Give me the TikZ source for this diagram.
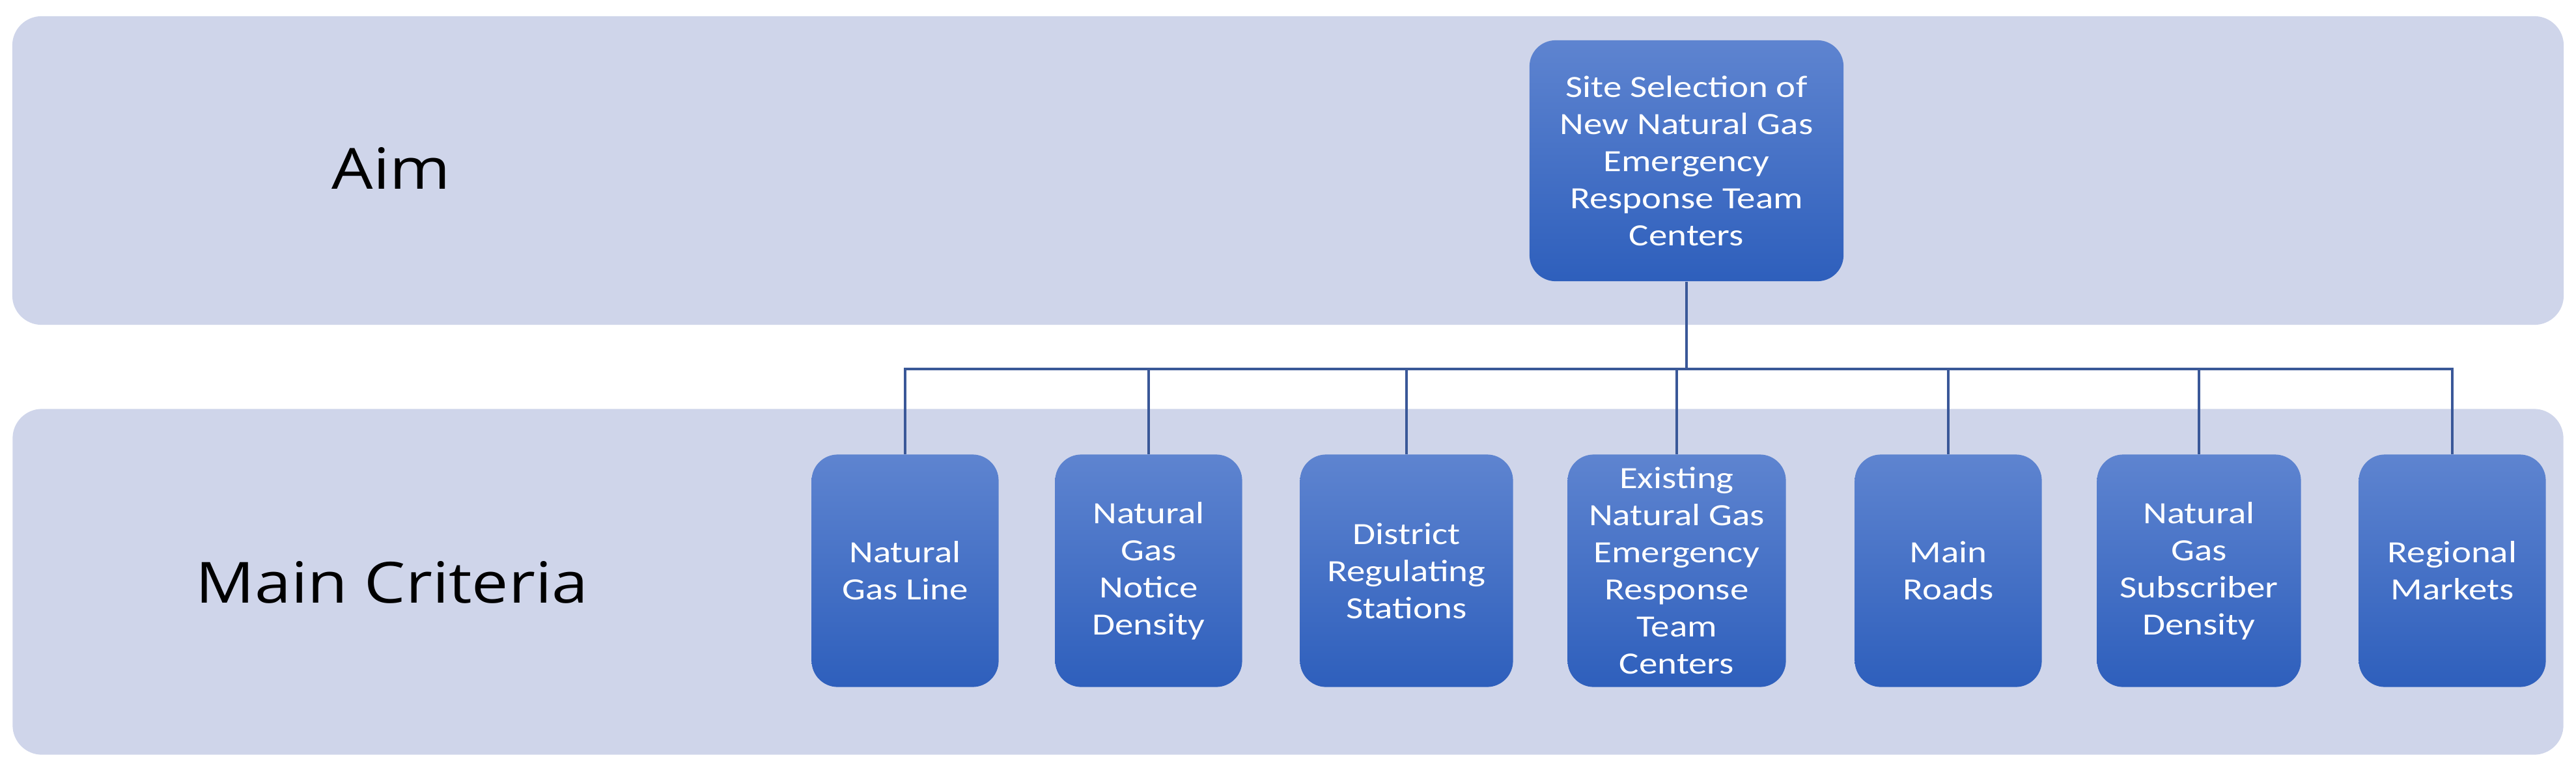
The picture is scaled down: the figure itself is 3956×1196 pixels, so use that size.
\documentclass[tikz,border=0pt]{standalone}
\usepackage{fontspec}
\newfontfamily\boxfont[FakeStretch=1.2]{Carlito}
\newfontfamily\bandfont[FakeStretch=1.15]{Open Sans}
\definecolor{bandfill}{RGB}{207,213,234}
\definecolor{boxtop}{RGB}{94,132,208}
\definecolor{boxbot}{RGB}{46,95,188}
\definecolor{linkblue}{RGB}{58,88,152}

\begin{document}
\begin{tikzpicture}[x=0.01cm, y=-0.01cm,
	band/.style={fill=bandfill, rounded corners=0.45cm, inner sep=0},
	bandlabel/.style={anchor=base, text=black, font=\bandfont\fontsize{24.8}{30}\selectfont},
	crit/.style={rounded corners=0.4cm, top color=boxtop, bottom color=boxbot, text=white, align=center, inner sep=0, font=\boxfont\fontsize{13.5}{16.2}\selectfont},
	link/.style={draw=linkblue, line width=1.15pt}]
	\useasboundingbox (0,0) rectangle (3956,1196);
	% the two bands
	\node[band, minimum width=39.16cm, minimum height=4.74cm] (aimband) at (1978,262) {};
	\node[band, minimum width=39.15cm, minimum height=5.31cm] (critband) at (1978,894) {};
	\node[bandlabel] (aim) at (601,290) {Aim};
	\node[bandlabel] (maincrit) at (602,926) {Main Criteria};
	% goal
	\node[crit, minimum width=4.82cm, minimum height=3.70cm] (goal) at (2590,247) {Site Selection of\\New Natural Gas\\Emergency\\Response Team\\Centers};
	% criteria
	\node[crit, minimum width=2.87cm, minimum height=3.57cm] (c1) at (1390,877) {Natural\\Gas Line};
	\node[crit, minimum width=2.87cm, minimum height=3.57cm] (c2) at (1764,877) {Natural\\Gas\\Notice\\Density};
	\node[crit, minimum width=3.27cm, minimum height=3.57cm] (c3) at (2160,877) {District\\Regulating\\Stations};
	\node[crit, minimum width=3.35cm, minimum height=3.57cm] (c4) at (2575,877) {Existing\\Natural Gas\\Emergency\\Response\\Team\\Centers};
	\node[crit, minimum width=2.87cm, minimum height=3.57cm] (c5) at (2992,877) {Main\\Roads};
	\node[crit, minimum width=3.13cm, minimum height=3.57cm] (c6) at (3377,877) {Natural\\Gas\\Subscriber\\Density};
	\node[crit, minimum width=2.87cm, minimum height=3.57cm] (c7) at (3766,877) {Regional\\Markets};
	% connectors
	\coordinate (bus) at (2590,567);
	\draw[link] (goal.south) -- (bus);
	\foreach \n in {c1,c2,c3,c4,c5,c6,c7}
		\draw[link] (\n.north) |- (bus);
\end{tikzpicture}
\end{document}
